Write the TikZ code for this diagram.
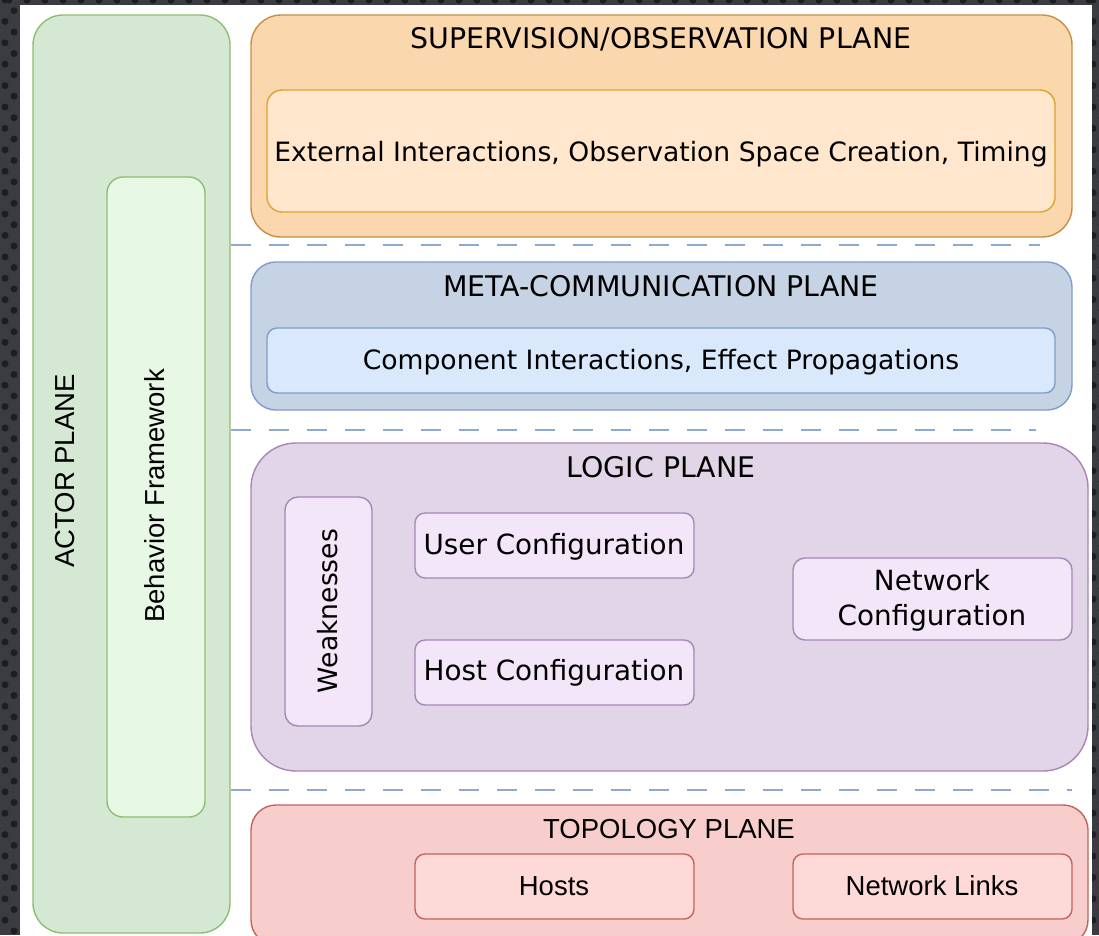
\documentclass[tikz,border=0pt]{standalone}
\usepackage{fontspec}
\setmainfont{DejaVu Sans}
\newfontfamily\arialfont{Liberation Sans}
\definecolor{bgdark}{HTML}{3A3C42}
\definecolor{bgdot}{HTML}{1D1E21}
\definecolor{actfill}{HTML}{D5E8D4}
\definecolor{actline}{HTML}{8DBE73}
\definecolor{behfill}{HTML}{E7F8E5}
\definecolor{supfill}{HTML}{FAD7AC}
\definecolor{supline}{HTML}{C98E45}
\definecolor{supinfill}{HTML}{FFE6CC}
\definecolor{supinline}{HTML}{DCA42C}
\definecolor{metfill}{HTML}{C6D3E4}
\definecolor{metline}{HTML}{7F9CC9}
\definecolor{metinfill}{HTML}{DAE8FC}
\definecolor{logfill}{HTML}{E1D5E7}
\definecolor{logline}{HTML}{A687B6}
\definecolor{loginfill}{HTML}{F3E6F9}
\definecolor{topfill}{HTML}{F8CECC}
\definecolor{topline}{HTML}{C4625E}
\definecolor{topinfill}{HTML}{FDDAD7}
\definecolor{sepline}{HTML}{8EA8CF}
\begin{document}
\begin{tikzpicture}[x=1pt,y=-1pt,
  panel/.style={draw, line width=1.4pt, inner sep=0pt, rectangle},
  verd/.style={font=\fontsize{26.6}{35}\selectfont, text=black, inner sep=0pt, align=center},
  verdcfg/.style={verd, font=\fontsize{27.8}{35}\selectfont},
  title/.style={verd, font=\fontsize{28.4}{35}\selectfont},
  ari/.style={font=\arialfont\fontsize{27.5}{31}\selectfont, text=black, inner sep=0pt, align=center},
  separator/.style={draw=sepline, line width=1.5pt, dash pattern=on 20pt off 18pt}
]
\useasboundingbox (0,0) rectangle (1099,935);
\clip (0,0) rectangle (1099,935);
% page: dark dotted border with a white sheet
\fill[bgdark] (0,0) rectangle (1099,935);
\foreach \j in {0,...,88} {
  \pgfmathsetmacro{\yy}{\j*10.7}
  \pgfmathsetmacro{\xo}{mod(\j,2)*9}
  \fill[bgdot] ({5+\xo},\yy) circle (3.5pt);
  \fill[bgdot] ({1093+\xo},\yy) circle (3.5pt);
}
\foreach \i in {0,...,60} {
  \fill[bgdot] ({\i*18+9},0) circle (3.5pt);
}
\fill[white] (20,5) rectangle (1092,935);

% actor plane
\node[panel, draw=actline, fill=actfill, rounded corners=30pt,
  minimum width=197pt, minimum height=918pt] (actor) at (131.5,474) {};
\node[panel, draw=actline, fill=behfill, rounded corners=16pt,
  minimum width=98pt, minimum height=640pt] (behav) at (156,497) {};
\node[ari, rotate=90] (actorlbl) at (65,471) {ACTOR PLANE};
\node[ari, rotate=90] (behavlbl) at (155,496) {Behavior Framework};

% supervision / observation plane
\node[panel, draw=supline, fill=supfill, rounded corners=30pt,
  minimum width=821pt, minimum height=222pt] (sup) at (661.5,126) {};
\node[title] (suplbl) at (661,39) {SUPERVISION/OBSERVATION PLANE};
\node[panel, draw=supinline, fill=supinfill, rounded corners=15pt,
  minimum width=788pt, minimum height=122pt] (supin) at (661,151) {};
\node[verd] (supinlbl) at (661,154) {External Interactions, Observation Space Creation, Timing};

% meta-communication plane
\node[panel, draw=metline, fill=metfill, rounded corners=25pt,
  minimum width=821pt, minimum height=148pt] (meta) at (661.5,336) {};
\node[title] (metalbl) at (661,286) {META-COMMUNICATION PLANE};
\node[panel, draw=metline, fill=metinfill, rounded corners=10pt,
  minimum width=788pt, minimum height=65pt] (metain) at (661,360.5) {};
\node[verd] (metainlbl) at (661,362) {Component Interactions, Effect Propagations};

% logic plane
\node[panel, draw=logline, fill=logfill, rounded corners=45pt,
  minimum width=837pt, minimum height=328pt] (logic) at (669.5,607) {};
\node[title] (logiclbl) at (661,467) {LOGIC PLANE};
\node[panel, draw=logline, fill=loginfill, rounded corners=13pt,
  minimum width=87pt, minimum height=229pt] (weak) at (328.5,611.5) {};
\node[verd, rotate=90] (weaklbl) at (328,611) {Weaknesses};
\node[panel, draw=logline, fill=loginfill, rounded corners=10pt,
  minimum width=279pt, minimum height=65pt] (user) at (554.5,545.5) {};
\node[verdcfg] (userlbl) at (554,547) {User Configuration};
\node[panel, draw=logline, fill=loginfill, rounded corners=10pt,
  minimum width=279pt, minimum height=65pt] (host) at (554.5,672.5) {};
\node[verdcfg] (hostlbl) at (554,673) {Host Configuration};
\node[panel, draw=logline, fill=loginfill, rounded corners=12pt,
  minimum width=279pt, minimum height=82pt] (netcfg) at (932.5,599) {};
\node[verdcfg] (netcfglbl) at (932,600) {Network\\Configuration};

% topology plane
\node[panel, draw=topline, fill=topfill, rounded corners=25pt,
  minimum width=837pt, minimum height=140pt] (topo) at (669.5,875) {};
\node[ari] (topolbl) at (669,829) {TOPOLOGY PLANE};
\node[panel, draw=topline, fill=topinfill, rounded corners=10pt,
  minimum width=279pt, minimum height=65pt] (hosts) at (554.5,886.5) {};
\node[ari] (hostslbl) at (554,886) {Hosts};
\node[panel, draw=topline, fill=topinfill, rounded corners=10pt,
  minimum width=279pt, minimum height=65pt] (links) at (932.5,886.5) {};
\node[ari] (linkslbl) at (932,886) {Network Links};

% dashed separators between the planes
\coordinate (s1a) at (actor.east |- 0,245);  \coordinate (s1b) at (1040,245);
\coordinate (s2a) at (actor.east |- 0,430);  \coordinate (s2b) at (1036,430);
\coordinate (s3a) at (actor.east |- 0,790);  \coordinate (s3b) at (1072,790);
\draw[separator] (s1a) -- (s1b);
\draw[separator] (s2a) -- (s2b);
\draw[separator] (s3a) -- (s3b);
\end{tikzpicture}
\end{document}
